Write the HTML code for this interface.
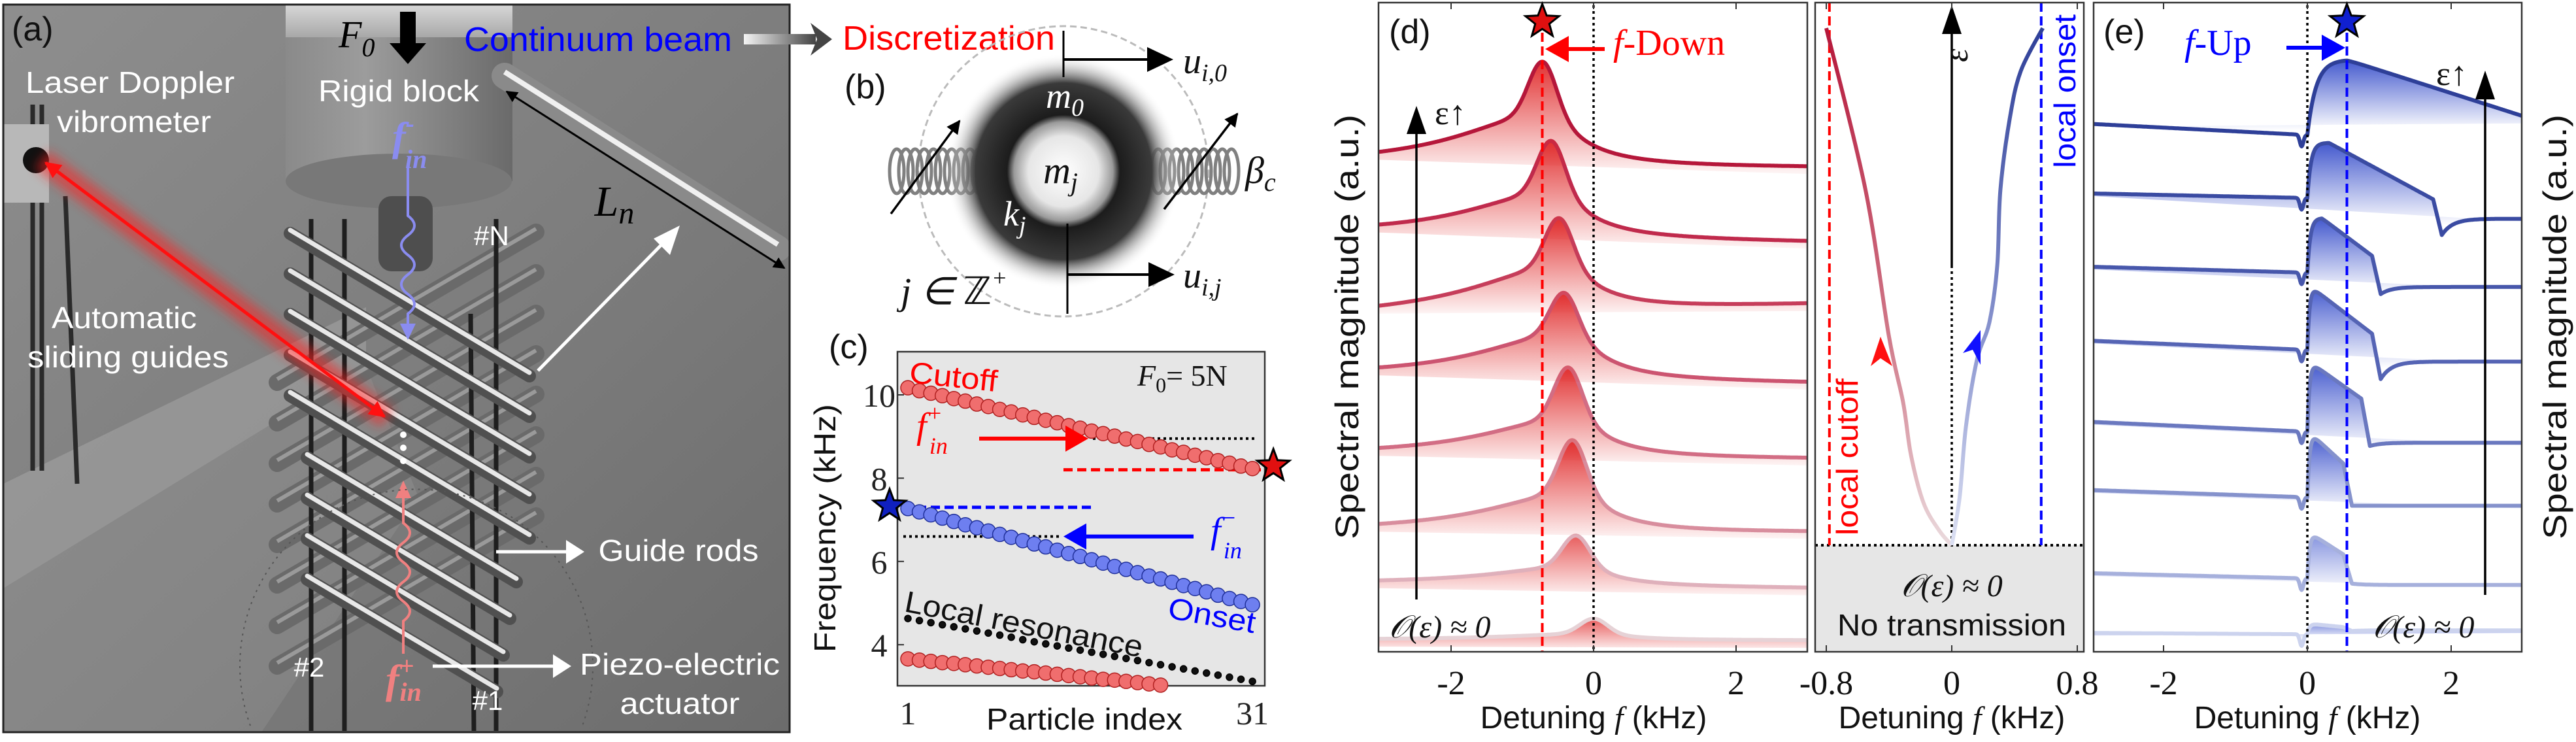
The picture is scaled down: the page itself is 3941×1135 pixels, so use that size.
<!DOCTYPE html>
<html><head><meta charset="utf-8"><title>Figure</title>
<style>
html,body{margin:0;padding:0;background:#fff;width:3941px;height:1135px;overflow:hidden;}
svg{display:block;}
text{font-family:"Liberation Sans",sans-serif;}
.serif{font-family:"Liberation Serif",serif;}
</style></head>
<body>
<svg id="fig" xmlns="http://www.w3.org/2000/svg" width="3941" height="1135" viewBox="0 0 3941 1135">
<defs>
  <linearGradient id="bgA" x1="0" y1="0" x2="1" y2="1">
    <stop offset="0" stop-color="#8e8e8e"/><stop offset="0.5" stop-color="#7e7e7e"/><stop offset="1" stop-color="#6c6c6c"/>
  </linearGradient>
  <linearGradient id="cyl" x1="0" y1="0" x2="1" y2="0">
    <stop offset="0" stop-color="#8a8a8a"/><stop offset="0.35" stop-color="#9c9c9c"/><stop offset="0.8" stop-color="#7a7a7a"/><stop offset="1" stop-color="#6a6a6a"/>
  </linearGradient>
  <linearGradient id="cylTop" x1="0" y1="0" x2="0" y2="1">
    <stop offset="0" stop-color="#d8d8d8"/><stop offset="1" stop-color="#a8a8a8"/>
  </linearGradient>
  <linearGradient id="grayArrow" x1="0" y1="0" x2="1" y2="0">
    <stop offset="0" stop-color="#f4f4f4"/><stop offset="1" stop-color="#444"/>
  </linearGradient>
  <radialGradient id="sphere" cx="0.5" cy="0.5" r="0.5">
    <stop offset="0" stop-color="#ffffff"/><stop offset="0.3" stop-color="#e6e6e6"/><stop offset="0.42" stop-color="#9a9a9a"/>
    <stop offset="0.48" stop-color="#1c1c1c"/><stop offset="0.75" stop-color="#3a3a3a"/><stop offset="1" stop-color="#ffffff" stop-opacity="0"/>
  </radialGradient>
  <filter id="blur" x="-10%" y="-10%" width="120%" height="120%"><feGaussianBlur stdDeviation="8"/></filter>
  <linearGradient id="redCurve" x1="0" y1="0" x2="0" y2="1">
    <stop offset="0" stop-color="#b5173a"/><stop offset="0.6" stop-color="#d07a8a"/><stop offset="1" stop-color="#eadadd"/>
  </linearGradient>
  <linearGradient id="blueCurve" x1="0" y1="0" x2="0" y2="1">
    <stop offset="0" stop-color="#2e3f98"/><stop offset="0.6" stop-color="#8a95cf"/><stop offset="1" stop-color="#dde1f3"/>
  </linearGradient>
  <clipPath id="clipA"><rect x="5" y="7" width="1203" height="1113"/></clipPath>
  <marker id="mkBlack" viewBox="0 0 10 10" refX="9" refY="5" markerWidth="6" markerHeight="6" orient="auto-start-reverse"><path d="M0,0 L10,5 L0,10 z" fill="#000"/></marker>
  <marker id="mkRed" viewBox="0 0 10 10" refX="9" refY="5" markerWidth="5" markerHeight="5" orient="auto-start-reverse"><path d="M0,0 L10,5 L0,10 z" fill="#ff1010"/></marker>
</defs>

<g id="panel-a" clip-path="url(#clipA)">
  <rect x="5" y="7" width="1203" height="1113" fill="url(#bgA)"/>
  <polygon points="5,740 5,900 560,560 560,470" fill="#a6a6a6" opacity="0.55"/>
  <polygon points="5,900 5,1120 400,1120 640,760 560,560" fill="#9a9a9a" opacity="0.3"/>
  <g stroke="#2a2a2a" stroke-width="7">
    <line x1="50" y1="160" x2="50" y2="720"/><line x1="64" y1="160" x2="64" y2="720"/><line x1="100" y1="300" x2="118" y2="740"/>
  </g>
  <rect x="5" y="190" width="70" height="120" fill="#b8b8b8"/>
  <circle cx="55" cy="245" r="20" fill="#111"/>
  <rect x="437" y="7" width="347" height="270" fill="url(#cyl)"/>
  <rect x="437" y="7" width="347" height="50" fill="url(#cylTop)"/>
  <ellipse cx="610" cy="277" rx="173" ry="42" fill="#787878"/>
  <rect x="579" y="300" width="83" height="115" rx="20" fill="#4e4e4e"/>
  <line x1="772" y1="116" x2="1190" y2="380" stroke="#8a8a8a" stroke-width="40" stroke-linecap="round"/>
  <line x1="772" y1="110" x2="1190" y2="374" stroke="#f0f0f0" stroke-width="8"/>
  <line x1="775" y1="140" x2="1200" y2="410" stroke="#000" stroke-width="3" marker-start="url(#mkBlack)" marker-end="url(#mkBlack)"/>
  <g stroke="#6a6a6a" stroke-width="26" stroke-linecap="round">
    <line x1="424" y1="585" x2="820" y2="355"/><line x1="424" y1="647" x2="820" y2="417"/><line x1="424" y1="709" x2="820" y2="479"/>
    <line x1="424" y1="771" x2="820" y2="541"/><line x1="424" y1="833" x2="820" y2="603"/><line x1="424" y1="895" x2="820" y2="665"/>
    <line x1="424" y1="957" x2="820" y2="727"/><line x1="424" y1="1019" x2="820" y2="789"/>
  </g>
  <g stroke="#9a9a9a" stroke-width="6">
    <line x1="424" y1="580" x2="820" y2="350"/><line x1="424" y1="642" x2="820" y2="412"/><line x1="424" y1="704" x2="820" y2="474"/>
    <line x1="424" y1="766" x2="820" y2="536"/><line x1="424" y1="828" x2="820" y2="598"/><line x1="424" y1="890" x2="820" y2="660"/>
    <line x1="424" y1="952" x2="820" y2="722"/><line x1="424" y1="1014" x2="820" y2="784"/>
  </g>
  <g stroke="#1e1e1e" stroke-width="7">
    <line x1="476" y1="335" x2="476" y2="1118"/><line x1="527" y1="335" x2="527" y2="1118"/>
    <line x1="720" y1="480" x2="725" y2="1118"/><line x1="759" y1="335" x2="759" y2="1118"/>
  </g>
  <g stroke-linecap="round">
    <g stroke="#505050" stroke-width="20">
      <line x1="444" y1="357" x2="810" y2="575"/><line x1="444" y1="419" x2="810" y2="637"/><line x1="444" y1="481" x2="810" y2="699"/>
      <line x1="444" y1="543" x2="810" y2="761"/><line x1="444" y1="605" x2="810" y2="823"/><line x1="470" y1="700" x2="790" y2="890"/>
      <line x1="470" y1="762" x2="780" y2="946"/><line x1="470" y1="824" x2="770" y2="1002"/><line x1="470" y1="886" x2="760" y2="1058"/>
    </g>
    <g stroke="#e8e8e8" stroke-width="7">
      <line x1="444" y1="352" x2="810" y2="570"/><line x1="444" y1="414" x2="810" y2="632"/><line x1="444" y1="476" x2="810" y2="694"/>
      <line x1="444" y1="538" x2="810" y2="756"/><line x1="444" y1="600" x2="810" y2="818"/><line x1="470" y1="695" x2="790" y2="885"/>
      <line x1="470" y1="757" x2="780" y2="941"/><line x1="470" y1="819" x2="770" y2="997"/><line x1="470" y1="881" x2="760" y2="1053"/>
    </g>
  </g>
  <line x1="64" y1="244" x2="592" y2="640" stroke="#ff2020" stroke-width="34" opacity="0.55" filter="url(#blur)"/>
  <line x1="70" y1="249" x2="588" y2="637" stroke="#ff1010" stroke-width="5" marker-start="url(#mkRed)" marker-end="url(#mkRed)"/>
  <path d="M624,250 L624,330 Q644,345 624,360 Q604,375 624,390 Q644,405 624,420 Q604,435 624,450 Q644,465 624,480 L624,500" fill="none" stroke="#8a8cf0" stroke-width="4"/>
  <polygon points="612,495 636,495 624,520" fill="#8a8cf0"/>
  <path d="M617,1000 L617,950 Q637,935 617,920 Q597,905 617,890 Q637,875 617,860 Q597,845 617,830 Q637,815 617,800 L617,760" fill="none" stroke="#f08080" stroke-width="4"/>
  <polygon points="605,762 629,762 617,735" fill="#f08080"/>
  <g fill="#fff"><circle cx="617" cy="665" r="5"/><circle cx="617" cy="685" r="5"/><circle cx="617" cy="705" r="5"/></g>
  <path d="M383,1110 A270,270 0 1 1 891,1110" fill="none" stroke="#555" stroke-width="2" stroke-dasharray="3 7"/>
  <g stroke="#fff" stroke-width="5" fill="none">
    <line x1="823" y1="567" x2="1028" y2="358"/>
    <line x1="759" y1="844" x2="870" y2="844"/>
    <line x1="662" y1="1019" x2="850" y2="1019"/>
  </g>
  <polygon points="1040,345 1000,365 1025,390" fill="#fff"/>
  <polygon points="894,844 866,826 866,862" fill="#fff"/>
  <polygon points="874,1019 846,1001 846,1037" fill="#fff"/>
  <text x="18" y="62" font-size="52" fill="#111">(a)</text>
  <text x="199" y="142" font-size="46" fill="#fff" text-anchor="middle" textLength="320" lengthAdjust="spacingAndGlyphs">Laser Doppler</text>
  <text x="205" y="202" font-size="46" fill="#fff" text-anchor="middle" textLength="236" lengthAdjust="spacingAndGlyphs">vibrometer</text>
  <text x="610" y="155" font-size="46" fill="#fff" text-anchor="middle" textLength="246" lengthAdjust="spacingAndGlyphs">Rigid block</text>
  <text x="190" y="502" font-size="46" fill="#fff" text-anchor="middle" textLength="222" lengthAdjust="spacingAndGlyphs">Automatic</text>
  <text x="196" y="562" font-size="46" fill="#fff" text-anchor="middle" textLength="308" lengthAdjust="spacingAndGlyphs">sliding guides</text>
  <text x="752" y="375" font-size="42" fill="#fff" text-anchor="middle">#N</text>
  <text x="473" y="1035" font-size="42" fill="#fff" text-anchor="middle">#2</text>
  <text x="746" y="1086" font-size="42" fill="#fff" text-anchor="middle">#1</text>
  <text x="1038" y="858" font-size="46" fill="#fff" text-anchor="middle" textLength="245" lengthAdjust="spacingAndGlyphs">Guide rods</text>
  <text x="1040" y="1032" font-size="46" fill="#fff" text-anchor="middle" textLength="306" lengthAdjust="spacingAndGlyphs">Piezo-electric</text>
  <text x="1040" y="1092" font-size="46" fill="#fff" text-anchor="middle" textLength="183" lengthAdjust="spacingAndGlyphs">actuator</text>
  <text x="940" y="330" font-size="66" fill="#000" font-style="italic" class="serif" text-anchor="middle">L<tspan font-size="48" dy="12">n</tspan></text>
  <text x="600" y="230" font-size="62" fill="#8a8cf0" font-style="italic" font-weight="bold" class="serif">f<tspan font-size="40" dy="-28">-</tspan><tspan font-size="40" dx="-14" dy="55">in</tspan></text>
  <text x="590" y="1060" font-size="62" fill="#f08080" font-style="italic" font-weight="bold" class="serif">f<tspan font-size="40" dy="-28">+</tspan><tspan font-size="40" dx="-22" dy="40">in</tspan></text>
</g>
<rect x="5" y="7" width="1203" height="1113" fill="none" stroke="#222" stroke-width="3"/>
<text x="518" y="72" font-size="58" fill="#000" font-style="italic" class="serif">F<tspan font-size="40" dy="14">0</tspan></text>
<rect x="612" y="18" width="24" height="50" fill="#000"/>
<polygon points="596,66 652,66 624,98" fill="#000"/>
<text x="710" y="78" font-size="52" fill="#0000ff" textLength="410" lengthAdjust="spacingAndGlyphs">Continuum beam</text>
<rect x="1138" y="52" width="110" height="16" fill="url(#grayArrow)"/>
<polygon points="1240,35 1273,60 1240,85 1250,60" fill="#444"/>
<text x="1289" y="76" font-size="52" fill="#ff0000" textLength="325" lengthAdjust="spacingAndGlyphs">Discretization</text>

<g id="panel-b">
  <circle cx="1627" cy="262" r="222" fill="none" stroke="#bbb" stroke-width="3" stroke-dasharray="10 6"/>
  <g id="springs" fill="none" stroke="#808080" stroke-width="5"></g>
  <circle cx="1627" cy="262" r="180" fill="url(#sphere)"/>
  <line x1="1627" y1="47" x2="1627" y2="118" stroke="#000" stroke-width="3"/>
  <line x1="1627" y1="91" x2="1770" y2="91" stroke="#000" stroke-width="4"/>
  <polygon points="1795,91 1755,72 1755,110" fill="#000"/>
  <line x1="1633" y1="342" x2="1633" y2="480" stroke="#000" stroke-width="3"/>
  <line x1="1633" y1="420" x2="1770" y2="420" stroke="#000" stroke-width="4"/>
  <polygon points="1797,420 1757,401 1757,439" fill="#000"/>
  <line x1="1363" y1="327" x2="1468" y2="185" stroke="#000" stroke-width="3.5" marker-end="url(#mkBlack)"/>
  <line x1="1781" y1="320" x2="1893" y2="174" stroke="#000" stroke-width="3.5" marker-end="url(#mkBlack)"/>
  <text x="1292" y="150" font-size="52" fill="#111">(b)</text>
  <text x="1600" y="165" font-size="54" fill="#fff" font-style="italic" class="serif">m<tspan font-size="38" dy="12">0</tspan></text>
  <text x="1596" y="280" font-size="58" fill="#111" font-style="italic" class="serif">m<tspan font-size="40" dy="12">j</tspan></text>
  <text x="1535" y="345" font-size="54" fill="#fff" font-style="italic" class="serif">k<tspan font-size="38" dy="12">j</tspan></text>
  <text x="1905" y="280" font-size="58" fill="#111" font-style="italic" class="serif">β<tspan font-size="40" dy="12">c</tspan></text>
  <text x="1810" y="112" font-size="56" fill="#111" font-style="italic" class="serif">u<tspan font-size="38" dy="12">i,0</tspan></text>
  <text x="1810" y="440" font-size="56" fill="#111" font-style="italic" class="serif">u<tspan font-size="38" dy="12">i,j</tspan></text>
  <text x="1378" y="465" font-size="58" fill="#111" font-style="italic" class="serif">j ∈ <tspan font-style="normal">ℤ</tspan><tspan font-size="36" dy="-28">+</tspan></text>
</g>

<g id="panel-c">
  <rect x="1373" y="538" width="562" height="511" fill="#e6e6e6" stroke="#333" stroke-width="2.5"/>
  <g id="c-marks"></g>
  <text x="1268" y="548" font-size="52" fill="#111">(c)</text>
  <text transform="translate(1278,808) rotate(-90)" font-size="46" fill="#111" text-anchor="middle" textLength="380" lengthAdjust="spacingAndGlyphs">Frequency (kHz)</text>
  <text x="1659" y="1116" font-size="46" fill="#111" text-anchor="middle" textLength="300" lengthAdjust="spacingAndGlyphs">Particle index</text>
  <text x="1390" y="585" font-size="46" fill="#ff0000" textLength="135" lengthAdjust="spacingAndGlyphs" transform="rotate(6 1390 585)">Cutoff</text>
  <text x="1740" y="590" font-size="46" fill="#111" class="serif"><tspan font-style="italic">F</tspan><tspan font-size="32" dy="10">0</tspan><tspan dy="-10">= 5N</tspan></text>
  <text x="1402" y="670" font-size="56" fill="#ff0000" font-style="italic" class="serif">f<tspan font-size="36" dy="-26">+</tspan><tspan font-size="36" dx="-20" dy="50">in</tspan></text>
  <text x="1852" y="830" font-size="56" fill="#0000ff" font-style="italic" class="serif">f<tspan font-size="36" dy="-26">−</tspan><tspan font-size="36" dx="-20" dy="50">in</tspan></text>
  <text x="1785" y="945" font-size="46" fill="#0000ff" transform="rotate(10 1785 945)" textLength="135" lengthAdjust="spacingAndGlyphs">Onset</text>
  <text x="1382" y="935" font-size="46" fill="#111" transform="rotate(11 1382 935)" textLength="370" lengthAdjust="spacingAndGlyphs">Local resonance</text>
</g>

<g id="panel-d"></g>
<g id="panel-m"></g>
<g id="panel-e"></g>
</svg>

<script>
// ---------- Panel C data ----------
const particleIndex = [1,2,3,4,5,6,7,8,9,10,11,12,13,14,15,16,17,18,19,20,21,22,23,24,25,26,27,28,29,30,31];
const cutoffFreq = [10.17,10.10,10.04,9.98,9.91,9.85,9.78,9.72,9.65,9.59,9.52,9.46,9.39,9.33,9.26,9.20,9.13,9.07,9.01,8.94,8.88,8.81,8.75,8.68,8.62,8.55,8.49,8.42,8.36,8.29,8.23];
const onsetFreq = [7.27,7.19,7.12,7.04,6.96,6.88,6.81,6.73,6.65,6.58,6.50,6.42,6.35,6.27,6.19,6.12,6.04,5.96,5.88,5.81,5.73,5.65,5.58,5.50,5.42,5.35,5.27,5.19,5.11,5.04,4.96];
const localResFreq = [4.63,4.58,4.53,4.48,4.43,4.38,4.33,4.28,4.23,4.18,4.12,4.07,4.02,3.97,3.92,3.87,3.82,3.77,3.72,3.67,3.62,3.57,3.52,3.47,3.42,3.37,3.32,3.27,3.22,3.17,3.12];
const lowerBandFreq = [3.66,3.63,3.60,3.57,3.55,3.52,3.49,3.46,3.43,3.40,3.37,3.35,3.32,3.29,3.26,3.23,3.20,3.17,3.15,3.12,3.09,3.06,3.03];
const cYTicks = [4,6,8,10];
const cXTicks = [1,31];
const fInPlusFreq = 8.95, fInMinusFreq = 6.6, cutoffEndFreq = 8.2, onsetStartFreq = 7.3;

// ---------- Panel D data ----------
const dPeakF = [-0.72,-0.6,-0.49,-0.42,-0.36,-0.3,-0.25,0.0];
const dPeakMag = [90.9,78.7,66.8,55.3,43.8,32.6,17.9,5.1];
const dLeftMag = [77.0,65.8,53.3,43.8,31.4,19.7,11.0,2.0];
const dRightMag = [74.8,63.3,53.7,41.6,29.9,18.6,9.9,1.8];
const dShoulder = [8,7,7,7,6,6,3,1];
const dColors = ["#b5173a","#c02a4c","#c63d5a","#cc5470","#d26d84","#d88d9d","#dfb0bb","#e6d2d6"];
const dXTicks = [-2,0,2];

// ---------- Panel E data ----------
const eLeftMag = [81.3,70.6,59.3,47.9,35.4,24.9,12.1,2.9];
const eZeroMag = [79.6,69.9,58.4,46.5,33.9,23.8,11.3,2.7];
const ePeakF = [0.55,0.3,0.2,0.05,0.05,0.05,0.05,0.05];
const ePeakMag = [91.2,78.4,66.8,56.2,44.5,33.6,18.2,4.3];
const eDropF = [3.2,1.75,0.9,0.9,0.75,0.5,0.5,0.5];
const ePreDropMag = [81.8,69.7,61.0,49.0,39.0,29.0,15.0,3.8];
const eDipMag = [81.8,64.2,55.1,42.0,31.7,22.5,10.5,3.2];
const eRightMag = [81.8,66.7,56.2,44.7,32.2,22.5,10.3,3.3];
const eRiseTau = [0.12,0.05,0.04,0.03,0.03,0.03,0.03,0.03];
const eColors = ["#2e3f98","#3a4ba2","#4757ab","#5564b4","#6a78bf","#8592cc","#a6b0dc","#ccd3ee"];
const eXTicks = [-2,0,2];

// ---------- Middle panel data ----------
const cutoffEdgeF = [-0.8,-0.55,-0.4,-0.31,-0.26,-0.18,-0.08,0];
const cutoffEdgeEps = [0.953,0.655,0.384,0.263,0.166,0.078,0.027,0];
const onsetEdgeF = [0,0.05,0.09,0.16,0.24,0.29,0.31,0.37,0.44,0.58];
const onsetEdgeEps = [0,0.088,0.218,0.341,0.411,0.516,0.655,0.787,0.874,0.953];
const mXTicks = [-0.8,0,0.8];
const mXTickLabels = ["-0.8","0","0.8"];
const localCutoffF = -0.78, localOnsetF = 0.57;
const dStarF = -0.72, eStarF = 0.55;

const NS = "http://www.w3.org/2000/svg";
function mk(tag, attrs, parent){
  const el = document.createElementNS(NS, tag);
  for (const k in attrs) el.setAttribute(k, attrs[k]);
  if (parent) parent.appendChild(el);
  return el;
}
function txt(parent, x, y, s, attrs){
  const t = mk("text", Object.assign({x:x, y:y}, attrs||{}), parent);
  t.textContent = s; return t;
}
function star(cx, cy, r, fill){
  let p = [];
  for (let i=0;i<10;i++){ const a = -Math.PI/2 + i*Math.PI/5; const rr = i%2?r*0.42:r; p.push((cx+rr*Math.cos(a)).toFixed(1)+","+(cy+rr*Math.sin(a)).toFixed(1)); }
  return {points:p.join(" "), fill:fill, stroke:"#000", "stroke-width":3};
}

(function(){
  const g = document.getElementById("c-marks");
  const xS = i => 1389 + (i-1)*17.57;
  const yS = v => 604 - (v-10)*63.7;
  cYTicks.forEach(v=>{
    const t = mk("line",{x1:1373,x2:1383,y1:yS(v),y2:yS(v),stroke:"#333","stroke-width":2},g);
    
    
    const l = txt(g,1345,yS(v)+18,String(v),{"font-size":50,"text-anchor":"middle",class:"serif",fill:"#222"});
    
    
  });
  cXTicks.forEach(v=>{
    const l = txt(g,xS(v),1108,String(v),{"font-size":50,"text-anchor":"middle",class:"serif",fill:"#222"});
    
    
  });
  const l1 = mk("line",{x1:1672,x2:1922,y1:yS(fInPlusFreq),y2:yS(fInPlusFreq),stroke:"#000","stroke-width":4,"stroke-dasharray":"4 5"},g);
  
  
  const l2 = mk("line",{x1:1627,x2:1929,y1:yS(cutoffEndFreq),y2:yS(cutoffEndFreq),stroke:"#ff0000","stroke-width":5,"stroke-dasharray":"14 7"},g);
  
  
  const l3 = mk("line",{x1:1382,x2:1672,y1:yS(onsetStartFreq),y2:yS(onsetStartFreq),stroke:"#0000ff","stroke-width":5,"stroke-dasharray":"14 7"},g);
  
  
  const l4 = mk("line",{x1:1382,x2:1620,y1:yS(fInMinusFreq),y2:yS(fInMinusFreq),stroke:"#000","stroke-width":4,"stroke-dasharray":"4 5"},g);
  
  
  function series(vals, fill, stroke, r, name){
    vals.forEach((v,k)=>{
      const c = mk("circle",{cx:xS(particleIndex[k]),cy:yS(v),r:r,fill:fill,stroke:stroke,"stroke-width":1.5},g);
      
      
    });
  }
  series(cutoffFreq,"#f06e6e","#b02020",11,"cutoff-point");
  series(onsetFreq,"#6e7ff0","#20309a",11,"onset-point");
  series(lowerBandFreq,"#f06e6e","#b02020",11,"lower-band-point");
  series(localResFreq,"#111","#000",5,"local-resonance-point");
  const a1 = mk("line",{x1:1498,x2:1640,y1:yS(fInPlusFreq),y2:yS(fInPlusFreq),stroke:"#ff0000","stroke-width":6},g);
  
  
  mk("polygon",{points:`1665,${yS(fInPlusFreq)} 1630,${yS(fInPlusFreq)-20} 1630,${yS(fInPlusFreq)+20}`,fill:"#ff0000"},g);
  const a2 = mk("line",{x1:1826,x2:1655,y1:yS(fInMinusFreq),y2:yS(fInMinusFreq),stroke:"#0000ff","stroke-width":6},g);
  
  
  mk("polygon",{points:`1627,${yS(fInMinusFreq)} 1662,${yS(fInMinusFreq)-20} 1662,${yS(fInMinusFreq)+20}`,fill:"#0000ff"},g);
  const s1 = mk("polygon",star(xS(31)+32,yS(cutoffFreq[30])-4,26,"#e01010"),g);
  
  
  const s2 = mk("polygon",star(xS(1)-28,yS(onsetFreq[0])-4,26,"#1020c0"),g);
  
  
})();

const Y0 = 997, YTOP = 4, AU = 9.93;
const yA = v => Y0 - v*AU;
let gradId = 0;
function gradFor(defsParent, color, yTop, yBot, op){
  const id = "sg"+(gradId++);
  const lg = mk("linearGradient",{id:id,gradientUnits:"userSpaceOnUse",x1:0,x2:0,y1:yTop,y2:yBot},defsParent);
  mk("stop",{offset:0,"stop-color":color,"stop-opacity":op},lg);
  mk("stop",{offset:1,"stop-color":color,"stop-opacity":0.0},lg);
  return id;
}
const defs = document.querySelector("defs");

function frame(g, x0, x1, name){
  const r = mk("rect",{x:x0,y:YTOP,width:x1-x0,height:Y0-YTOP,fill:"none",stroke:"#333","stroke-width":2.5},g);
  
  
}
function ticks(g, xs, labels, xS, name){
  xs.forEach((v,k)=>{
    mk("line",{x1:xS(v),x2:xS(v),y1:Y0,y2:Y0-10,stroke:"#333","stroke-width":2},g);
    mk("line",{x1:xS(v),x2:xS(v),y1:YTOP,y2:YTOP+10,stroke:"#333","stroke-width":2},g);
    const t = txt(g,xS(v),1062,labels[k],{"font-size":52,"text-anchor":"middle",class:"serif",fill:"#111"});
    
    
  });
}
function xTitle(g, x, name){
  const xl = txt(g,x,1114,"",{"font-size":48,"text-anchor":"middle",fill:"#111"});
  xl.innerHTML = 'Detuning <tspan font-style="italic" class="serif">f</tspan> (kHz)';
  
  
}

(function(){
  const g = document.getElementById("panel-d");
  const xS = f => 2438 + f*109;
  const F0 = -3.02, F1 = 3.0;
  for (let i=dPeakF.length-1;i>=0;i--){
    const pk = dPeakF[i], S = dShoulder[i];
    const lor = f => f<pk ? 1/(1+Math.pow((f-pk)/1.4,2)) : 1/(1+Math.pow((f-pk)/0.6,2));
    const bL = dLeftMag[i] - S*lor(F0), bR = dRightMag[i] - S*lor(F1);
    const base = f => bL + (bR-bL)*(f-F0)/(F1-F0);
    const G = dPeakMag[i] - base(pk) - S;
    const val = f => base(f) + S*lor(f) + G*Math.exp(-Math.pow((f-pk)/0.27,2));
    let pts = [];
    for (let f=F0; f<=F1+1e-9; f+=0.01) pts.push([xS(f), yA(val(f))]);
    const d = "M"+pts.map(p=>p[0].toFixed(1)+","+p[1].toFixed(1)).join(" L");
    const gid = gradFor(defs, "#e02828", yA(dPeakMag[i]), yA(Math.min(dLeftMag[i],dRightMag[i]))+20, i<6?0.95:0.75);
    const fill = mk("path",{d:d+` L${xS(F1)},${yA(dRightMag[i])+12} L${xS(F0)},${yA(dLeftMag[i])+12} Z`,fill:`url(#${gid})`,stroke:"none"},g);
    
    
    const line = mk("path",{d:d,fill:"none",stroke:dColors[i],"stroke-width":6,"stroke-linejoin":"round"},g);
    
    
  }
  const v0 = mk("line",{x1:xS(0),x2:xS(0),y1:8,y2:Y0,stroke:"#000","stroke-width":3.5,"stroke-dasharray":"4 5"},g);
  
  
  const vs = mk("line",{x1:xS(dStarF),x2:xS(dStarF),y1:50,y2:Y0,stroke:"#ff0000","stroke-width":4,"stroke-dasharray":"14 7"},g);
  
  
  frame(g,2109,2765,'panel-d-frame');
  ticks(g,dXTicks,dXTicks.map(String),xS,'d-x-tick-label');
  const st = mk("polygon",star(xS(dStarF),33,27,"#e01010"),g);
  
  
  const ar = mk("line",{x1:2455,x2:2390,y1:75,y2:75,stroke:"#ff0000","stroke-width":6},g);
  
  
  mk("polygon",{points:"2364,75 2400,55 2400,95",fill:"#ff0000"},g);
  const fd = txt(g,2468,84,"",{"font-size":56,fill:"#ff0000",class:"serif"});
  fd.innerHTML = '<tspan font-style="italic">f</tspan>-Down';
  
  
  txt(g,2125,66,"(d)",{"font-size":52,fill:"#111"});
  const ea = mk("line",{x1:2167,x2:2167,y1:917,y2:190,stroke:"#000","stroke-width":3.5},g);
  
  
  mk("polygon",{points:"2167,162 2152,205 2182,205",fill:"#000"},g);
  txt(g,2195,190,"ε↑",{"font-size":52,class:"serif",fill:"#111"});
  txt(g,2125,975,"𝒪(ε) ≈ 0",{"font-size":48,class:"serif",fill:"#111","font-style":"italic"});
  const yl = txt(g,0,0,"Spectral magnitude (a.u.)",{"font-size":50,"text-anchor":"middle",fill:"#111",transform:"translate(2078,500) rotate(-90)",textLength:650,lengthAdjust:"spacingAndGlyphs"});
  
  
  xTitle(g,2438,'d-x-axis-title');
})();

(function(){
  const g = document.getElementById("panel-m");
  const xS = f => 2986 + f*240;
  const yE = e => 834 - e*830;
  const bx = mk("rect",{x:2777,y:834,width:411,height:163,fill:"#e6e6e6"},g);
  
  
  mk("line",{x1:2777,x2:3188,y1:834,y2:834,stroke:"#000","stroke-width":4,"stroke-dasharray":"4 5"},g);
  const lc = mk("line",{x1:xS(localCutoffF),x2:xS(localCutoffF),y1:4,y2:834,stroke:"#ff0000","stroke-width":4,"stroke-dasharray":"14 7"},g);
  
  
  const lo = mk("line",{x1:xS(localOnsetF),x2:xS(localOnsetF),y1:4,y2:834,stroke:"#0000ff","stroke-width":4,"stroke-dasharray":"14 7"},g);
  
  
  mk("line",{x1:xS(0),x2:xS(0),y1:406,y2:834,stroke:"#000","stroke-width":3.5,"stroke-dasharray":"4 5"},g);
  const ea = mk("line",{x1:xS(0),x2:xS(0),y1:406,y2:40,stroke:"#000","stroke-width":3.5},g);
  
  
  mk("polygon",{points:`${xS(0)},8 ${xS(0)-15},52 ${xS(0)+15},52`,fill:"#000"},g);
  function smooth(xs, ys){
    const p = xs.map((f,k)=>[xS(f), yE(ys[k])]);
    let d = `M${p[0][0]},${p[0][1]}`;
    for (let k=0;k<p.length-1;k++){
      const p0=p[Math.max(0,k-1)], p1=p[k], p2=p[k+1], p3=p[Math.min(p.length-1,k+2)];
      d += ` C${p1[0]+(p2[0]-p0[0])/6},${p1[1]+(p2[1]-p0[1])/6} ${p2[0]-(p3[0]-p1[0])/6},${p2[1]-(p3[1]-p1[1])/6} ${p2[0]},${p2[1]}`;
    }
    return d;
  }
  const rc = mk("path",{d:smooth(cutoffEdgeF,cutoffEdgeEps),fill:"none",stroke:"url(#redCurve)","stroke-width":6},g);
  
  
  const bc = mk("path",{d:smooth(onsetEdgeF,onsetEdgeEps),fill:"none",stroke:"url(#blueCurve)","stroke-width":6},g);
  
  
  mk("polygon",{points:"2877,515 2862,560 2877,548 2895,560",fill:"#ff1010"},g);
  mk("polygon",{points:"3030,505 3003,540 3018,535 3030,558",fill:"#1010ff"},g);
  frame(g,2777,3188,'panel-middle-frame');
  ticks(g,mXTicks,mXTickLabels,xS,'m-x-tick-label');
  txt(g,0,0,"local cutoff",{"font-size":46,fill:"#ff0000",transform:"translate(2842,819) rotate(-90)",textLength:240,lengthAdjust:"spacingAndGlyphs"});
  txt(g,0,0,"local onset",{"font-size":46,fill:"#0000ff",transform:"translate(3175,257) rotate(-90)",textLength:235,lengthAdjust:"spacingAndGlyphs"});
  txt(g,0,0,"ε",{"font-size":52,class:"serif",fill:"#111","font-style":"italic",transform:"translate(3010,95) rotate(-90)"});
  txt(g,2986,912,"𝒪(ε) ≈ 0",{"font-size":48,"text-anchor":"middle",class:"serif",fill:"#111","font-style":"italic"});
  txt(g,2986,972,"No transmission",{"font-size":46,"text-anchor":"middle",fill:"#111",textLength:350,lengthAdjust:"spacingAndGlyphs"});
  xTitle(g,2986,'m-x-axis-title');
})();

(function(){
  const g = document.getElementById("panel-e");
  const xS = f => 3530 + f*110;
  const F0 = -2.97, F1 = 2.98;
  for (let i=ePeakF.length-1;i>=0;i--){
    const L=eLeftMag[i], Z=eZeroMag[i], pk=ePeakF[i], P=ePeakMag[i], fd=eDropF[i], D=ePreDropMag[i], Dp=eDipMag[i], R=eRightMag[i], tau=eRiseTau[i];
    const val = f => {
      if (f < 0) {
        const b = L + (Z-L)*(f-F0)/(0-F0);
        return b - 1.8*Math.exp(-Math.pow((f+0.08)/0.035,2));
      }
      if (f < fd) {
        const top = f<=pk ? P : P - (P-D)*(f-pk)/(fd-pk);
        const r = 1 - Math.exp(-f/tau);
        return Z + (top-Z)*r;
      }
      if (f < fd+0.12) return D + (Dp-D)*(f-fd)/0.12;
      return R + (Dp-R)*Math.exp(-(f-fd-0.12)/0.15);
    };
    let pts = [];
    for (let f=F0; f<=F1+1e-9; f+=0.01) pts.push([xS(f), yA(val(f))]);
    const d = "M"+pts.map(p=>p[0].toFixed(1)+","+p[1].toFixed(1)).join(" L");
    const gid = gradFor(defs, "#2e46c8", yA(P), yA(Math.min(L,R))+10, i<6?0.9:0.6);
    const fill = mk("path",{d:d+` L${xS(F1)},${yA(R)+4} L${xS(F0)},${yA(L)+4} Z`,fill:`url(#${gid})`,stroke:"none"},g);
    
    
    const line = mk("path",{d:d,fill:"none",stroke:eColors[i],"stroke-width":6,"stroke-linejoin":"round"},g);
    
    
  }
  const v0 = mk("line",{x1:xS(0),x2:xS(0),y1:8,y2:Y0,stroke:"#000","stroke-width":3.5,"stroke-dasharray":"4 5"},g);
  
  
  const vs = mk("line",{x1:xS(eStarF),x2:xS(eStarF),y1:50,y2:Y0,stroke:"#0000ff","stroke-width":4,"stroke-dasharray":"14 7"},g);
  
  
  frame(g,3203,3858,'panel-e-frame');
  ticks(g,eXTicks,eXTicks.map(String),xS,'e-x-tick-label');
  const st = mk("polygon",star(xS(eStarF),33,27,"#1020d0"),g);
  
  
  const ar = mk("line",{x1:3498,x2:3560,y1:73,y2:73,stroke:"#0000ff","stroke-width":6},g);
  
  
  mk("polygon",{points:"3588,73 3552,53 3552,93",fill:"#0000ff"},g);
  const fu = txt(g,3342,84,"",{"font-size":56,fill:"#0000ff",class:"serif"});
  fu.innerHTML = '<tspan font-style="italic">f</tspan>-Up';
  
  
  txt(g,3218,66,"(e)",{"font-size":52,fill:"#111"});
  const ea = mk("line",{x1:3802,x2:3802,y1:910,y2:135,stroke:"#000","stroke-width":3.5},g);
  
  
  mk("polygon",{points:"3802,108 3787,152 3817,152",fill:"#000"},g);
  txt(g,3727,130,"ε↑",{"font-size":52,class:"serif",fill:"#111"});
  txt(g,3630,975,"𝒪(ε) ≈ 0",{"font-size":48,class:"serif",fill:"#111","font-style":"italic"});
  const yl = txt(g,0,0,"Spectral magnitude (a.u.)",{"font-size":50,"text-anchor":"middle",fill:"#111",transform:"translate(3926,500) rotate(-90)",textLength:650,lengthAdjust:"spacingAndGlyphs"});
  
  
  xTitle(g,3530,'e-x-axis-title');
})();

(function(){
  const g = document.getElementById("springs");
  const leftCoilX = [1372,1386,1400,1414,1428,1442,1456,1470,1484,1498,1512,1526,1540,1554];
  const rightCoilX = [1772,1786,1800,1814,1828,1842,1856,1870,1884];
  leftCoilX.concat(rightCoilX).forEach(x=>{
    const e = mk("ellipse",{cx:x,cy:262,rx:11,ry:34},g);
    
    
  });
})();
</script>
</body></html>
